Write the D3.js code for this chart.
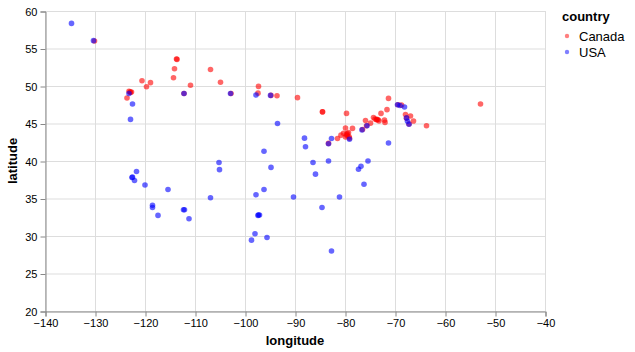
<!DOCTYPE html>
<html><head><meta charset="utf-8">
<script src="https://cdn.jsdelivr.net/npm/d3@7"></script>
<style>body{margin:0;background:#fff;font-family:"Liberation Sans",Arial,sans-serif}</style>
</head><body><svg id="c" width="635" height="352"></svg>
<script>
const categories = ["Canada", "USA"];
const colors = ["#ff0000", "#0000ff"];
const xTicks = [-140,-130,-120,-110,-100,-90,-80,-70,-60,-50,-40];
const yTicks = [20,25,30,35,40,45,50,55,60];
// [longitude, latitude]
const canada = [
  [-123.2,49.3],[-123.0,49.2],[-122.7,49.2],[-122.9,49.15],[-123.6,48.4],
  [-113.7,53.6],[-113.6,53.55],[-114.1,52.3],[-114.3,51.1],[-120.6,50.7],[-118.9,50.45],
  [-119.7,49.9],[-110.9,50.1],[-106.9,52.2],[-104.9,50.5],
  [-102.8,49.0],[-112.2,49.0],[-130.1,56.0],
  [-97.3,49.95],[-97.4,49.05],[-94.8,48.75],[-93.6,48.7],[-89.5,48.45],
  [-84.5,46.55],[-84.5,46.57],[-79.7,46.35],
  [-83.3,42.35],[-81.5,43.0],[-80.8,43.45],[-80.3,43.7],[-79.9,44.4],[-78.5,44.35],
  [-79.5,43.65],[-79.7,43.55],[-79.9,43.2],[-79.3,43.8],[-79.6,43.4],[-79.1,43.05],[-79.2,43.25],
  [-76.5,44.2],[-75.7,44.7],[-75.9,45.4],[-74.9,45.05],
  [-74.3,45.8],[-74.0,45.6],[-73.7,45.5],[-73.6,45.55],[-73.4,45.5],[-73.2,45.35],[-72.8,46.35],
  [-72.1,45.45],[-72.0,45.15],[-71.6,46.85],[-71.3,48.35],
  [-69.4,47.5],[-68.7,47.45],[-67.9,46.2],[-66.9,46.0],[-67.7,45.7],[-67.2,44.95],
  [-66.3,45.33],[-63.7,44.7],[-52.9,47.6]
];
const usa = [
  [-134.7,58.35],[-130.3,56.05],[-123.2,49.0],[-122.5,47.6],[-122.9,45.55],
  [-121.7,38.6],[-122.6,37.8],[-122.5,37.85],[-122.1,37.4],[-120.0,36.8],
  [-118.5,34.1],[-118.5,33.8],[-117.4,32.75],[-115.4,36.2],
  [-112.3,33.5],[-112.1,33.5],[-111.2,32.3],[-106.9,35.1],[-105.2,39.8],[-105.1,38.85],
  [-112.2,49.0],[-102.9,49.0],[-97.8,48.8],[-94.9,48.75],
  [-93.5,45.0],[-96.2,41.3],[-94.8,39.15],[-97.8,35.5],[-96.2,36.2],
  [-97.3,32.8],[-97.1,32.8],[-97.4,32.75],[-98.0,30.3],[-98.7,29.45],[-95.6,29.8],
  [-90.3,35.2],[-88.1,43.05],[-87.9,41.9],[-86.4,39.8],[-85.9,38.25],[-83.3,40.0],
  [-84.6,33.8],[-81.1,35.2],[-82.7,28.0],
  [-82.7,43.0],[-83.3,42.3],[-79.1,42.9],[-76.2,36.9],[-77.3,38.9],[-76.8,39.3],[-75.4,40.0],
  [-71.3,42.4],[-76.6,44.15],[-75.6,44.7],
  [-69.5,47.5],[-69.0,47.4],[-68.1,47.2],[-67.7,45.75],[-67.5,45.3],[-67.2,44.9]
];

const W = 635, H = 352;
const m = {left:45, top:11, right:545, bottom:311};
const svg = d3.select("#c");
const x = d3.scaleLinear().domain([-140,-40]).range([m.left, m.right]);
const y = d3.scaleLinear().domain([20,60]).range([m.bottom, m.top]);
const color = d3.scaleOrdinal().domain(categories).range(colors);

// grid
svg.append("g").selectAll("line").data(xTicks).join("line")
  .attr("x1", d=>x(d)+0.5).attr("x2", d=>x(d)+0.5).attr("y1", m.top).attr("y2", m.bottom)
  .attr("stroke", "#ddd").attr("stroke-width", 1);
svg.append("g").selectAll("line").data(yTicks).join("line")
  .attr("y1", d=>y(d)+0.5).attr("y2", d=>y(d)+0.5).attr("x1", m.left).attr("x2", m.right)
  .attr("stroke", "#ddd").attr("stroke-width", 1);

// axes
const xAxis = svg.append("g").attr("transform", `translate(0.5,${m.bottom+0.5})`)
  .call(d3.axisBottom(x).tickValues(xTicks).tickSize(5).tickPadding(3).tickFormat(d3.format("")));
const yAxis = svg.append("g").attr("transform", `translate(${m.left+0.5},0.5)`)
  .call(d3.axisLeft(y).tickValues(yTicks).tickSize(5).tickPadding(3));
[xAxis, yAxis].forEach(a => {
  a.selectAll("path").attr("stroke", "#888");
  a.selectAll("line").attr("stroke", "#888");
  a.selectAll("text").attr("fill", "#000").style("font-size", "11px").style("font-family", '"Liberation Sans",Arial,sans-serif');
});

svg.append("text").attr("x", (m.left+m.right)/2).attr("y", 345).attr("text-anchor", "middle")
  .style("font-weight", "bold").style("font-size", "13px").text("longitude");
svg.append("text").attr("transform", `translate(17,${(m.top+m.bottom)/2}) rotate(-90)`)
  .attr("text-anchor", "middle").style("font-weight", "bold").style("font-size", "13px").text("latitude");

// points
const pts = canada.map(p => ({lon:p[0], lat:p[1], c:"Canada"}))
  .concat(usa.map(p => ({lon:p[0], lat:p[1], c:"USA"})));
svg.append("g").selectAll("circle").data(pts).join("circle")
  .attr("cx", d=>x(d.lon)).attr("cy", d=>y(d.lat)).attr("r", 2.8)
  .attr("fill", d=>color(d.c)).attr("fill-opacity", 0.6);

// legend
const lg = svg.append("g").attr("transform", "translate(562,0)");
lg.append("text").attr("x", 0).attr("y", 21).style("font-weight", "bold").style("font-size", "13px").text("country");
categories.forEach((c, i) => {
  lg.append("circle").attr("cx", 5).attr("cy", 36 + i*16).attr("r", 2.2)
    .attr("fill", color(c)).attr("fill-opacity", 0.5);
  lg.append("text").attr("x", 17).attr("y", 41 + i*16).style("font-size", "13px").text(c);
});
</script></body></html>
